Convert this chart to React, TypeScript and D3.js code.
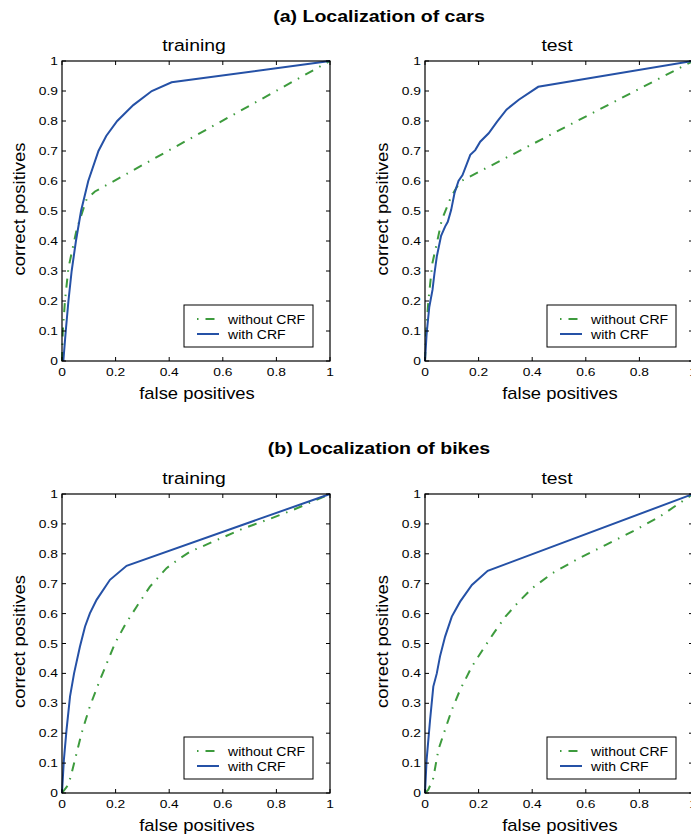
import React from "react";
import * as d3 from "d3";

type Pt = [number, number];

const carsTrainWith: Pt[] = [[0.005,0],[0.014,0.1],[0.024,0.2],[0.036,0.3],[0.052,0.4],[0.071,0.5],[0.098,0.6],[0.136,0.7],[0.165,0.75],[0.206,0.8],[0.266,0.853],[0.335,0.9],[0.409,0.929],[1,1]];
const carsTrainWithout: Pt[] = [[0,0],[0.003,0.1],[0.011,0.2],[0.024,0.31],[0.055,0.44],[0.092,0.54],[0.123,0.565],[1,1]];
const carsTestWith: Pt[] = [[0,0],[0.006,0.09],[0.016,0.18],[0.028,0.237],[0.035,0.29],[0.044,0.348],[0.06,0.417],[0.075,0.448],[0.085,0.464],[0.0975,0.503],[0.11,0.559],[0.125,0.6],[0.14,0.62],[0.169,0.687],[0.1875,0.703],[0.206,0.731],[0.2375,0.759],[0.269,0.798],[0.304,0.838],[0.35,0.871],[0.4225,0.914],[1,1]];
const carsTestWithout: Pt[] = [[0,0],[0.004,0.09],[0.0125,0.2],[0.0275,0.326],[0.044,0.392],[0.0625,0.47],[0.0975,0.548],[0.131,0.598],[1,1]];
const bikesTrainWith: Pt[] = [[0,0],[0.007,0.111],[0.017,0.212],[0.03,0.323],[0.045,0.4],[0.067,0.49],[0.086,0.557],[0.104,0.601],[0.129,0.646],[0.179,0.713],[0.241,0.76],[1,1]];
const bikesTrainWithout: Pt[] = [[0,0],[0.024,0.028],[0.036,0.067],[0.073,0.2],[0.104,0.29],[0.142,0.379],[0.198,0.501],[0.235,0.562],[0.279,0.624],[0.328,0.69],[0.39,0.752],[0.44,0.785],[0.478,0.807],[0.565,0.841],[0.677,0.885],[0.764,0.913],[0.863,0.947],[1,1]];
const bikesTestWith: Pt[] = [[0,0],[0.006,0.111],[0.019,0.245],[0.031,0.356],[0.044,0.4],[0.056,0.457],[0.075,0.523],[0.1,0.59],[0.131,0.64],[0.175,0.696],[0.234,0.743],[1,1]];
const bikesTestWithout: Pt[] = [[0,0],[0.0125,0.011],[0.031,0.05],[0.05,0.145],[0.075,0.212],[0.1,0.278],[0.131,0.345],[0.175,0.423],[0.219,0.484],[0.256,0.534],[0.3,0.59],[0.35,0.64],[0.4,0.685],[0.475,0.735],[0.575,0.785],[0.675,0.83],[0.775,0.875],[0.875,0.924],[1,1]];

const seriesNames = ["without CRF", "with CRF"];
const sectionTitles = ["(a) Localization of cars", "(b) Localization of bikes"];
const panelTitles = ["training", "test"];
const xLabel = "false positives";
const yLabel = "correct positives";

const BLUE = "#2551a6";
const GREEN = "#3d9b3d";
const FONT = "'Liberation Sans', Arial, Helvetica, sans-serif";
const DASH = "9,7,1.5,7";

const fmt = (d: number) => String(+d.toFixed(1));

function T({ x, y, size, sx = 1, anchor = "start", rot = 0, bold = false, children }: { x: number; y: number; size: number; sx?: number; anchor?: string; rot?: number; bold?: boolean; children: React.ReactNode }) {
  return (
    <text
      transform={`translate(${x},${y}) rotate(${rot}) scale(${sx},1)`}
      textAnchor={anchor as any}
      fontSize={size}
      fontWeight={bold ? "bold" : "normal"}
      fontFamily={FONT}
      fill="#000"
    >
      {children}
    </text>
  );
}

function Panel({ x0, x1, y0, y1, title, without, withC }: { x0: number; x1: number; y0: number; y1: number; title: string; without: Pt[]; withC: Pt[] }) {
  const x = d3.scaleLinear().domain([0, 1]).range([x0, x1]);
  const y = d3.scaleLinear().domain([0, 1]).range([y1, y0]);
  const line = d3.line<Pt>().x((d) => x(d[0])).y((d) => y(d[1]));
  const xt = x.ticks(5);
  const yt = y.ticks(10);
  const tl = 4;
  const lx1 = x1 - 17;
  const lx0 = lx1 - 129;
  const ly1 = y1 - 14;
  const ly0 = ly1 - 42;
  const cx = (x0 + x1) / 2;
  const cy = (y0 + y1) / 2;
  return (
    <g>
      <T x={cx - 2} y={y0 - 10.5} size={17} sx={1.14} anchor="middle">{title}</T>
      <rect x={x0} y={y0} width={x1 - x0} height={y1 - y0} fill="white" />
      <path d={line(without) || ""} fill="none" stroke={GREEN} strokeWidth={2} strokeDasharray={DASH} />
      <path d={line(withC) || ""} fill="none" stroke={BLUE} strokeWidth={2} />
      {xt.map((t) => (
        <g key={"x" + t}>
          <line x1={x(t)} x2={x(t)} y1={y1} y2={y1 - tl} stroke="#000" />
          <line x1={x(t)} x2={x(t)} y1={y0} y2={y0 + tl} stroke="#000" />
          <T x={x(t)} y={y1 + 15} size={11.5} sx={1.2} anchor="middle">{fmt(t)}</T>
        </g>
      ))}
      {yt.map((t) => (
        <g key={"y" + t}>
          <line x1={x0} x2={x0 + tl} y1={y(t)} y2={y(t)} stroke="#000" />
          <line x1={x1} x2={x1 - tl} y1={y(t)} y2={y(t)} stroke="#000" />
          <T x={x0 - 4} y={y(t) + 4} size={11.5} sx={1.2} anchor="end">{fmt(t)}</T>
        </g>
      ))}
      <rect x={x0} y={y0} width={x1 - x0} height={y1 - y0} fill="none" stroke="#000" strokeWidth={1.2} />
      <T x={cx + 1} y={y1 + 37.5} size={16} sx={1.15} anchor="middle">{xLabel}</T>
      <T x={x0 - 37} y={cy - 2} size={16} sx={1.15} anchor="middle" rot={-90}>{yLabel}</T>
      <rect x={lx0} y={ly0} width={lx1 - lx0} height={ly1 - ly0} fill="white" stroke="#000" strokeWidth={1} />
      <line x1={lx0 + 13} x2={lx0 + 35} y1={ly0 + 14} y2={ly0 + 14} stroke={GREEN} strokeWidth={2} strokeDasharray="1.5,7,9,7" />
      <T x={lx0 + 44} y={ly0 + 18.5} size={13} sx={1.08}>{seriesNames[0]}</T>
      <line x1={lx0 + 13} x2={lx0 + 35} y1={ly0 + 29} y2={ly0 + 29} stroke={BLUE} strokeWidth={2} />
      <T x={lx0 + 44} y={ly0 + 33.5} size={13} sx={1.08}>{seriesNames[1]}</T>
    </g>
  );
}

export default function App() {
  const cols = [[62, 330], [425, 693]];
  const rows = [[61, 361], [494, 793]];
  const data = [[carsTrainWithout, carsTrainWith, carsTestWithout, carsTestWith], [bikesTrainWithout, bikesTrainWith, bikesTestWithout, bikesTestWith]];
  const secY = [21.7, 453.5];
  return (
    <svg width={691} height={837} style={{ position: "absolute", left: 0, top: 0, background: "white" }}>
      <rect width={691} height={837} fill="white" />
      {rows.map((r, ri) => (
        <g key={ri}>
          <T x={379} y={secY[ri]} size={17} sx={1.15} bold anchor="middle">{sectionTitles[ri]}</T>
          {cols.map((c, ci) => (
            <Panel key={ci} x0={c[0]} x1={c[1]} y0={r[0]} y1={r[1]} title={panelTitles[ci]} without={data[ri][ci * 2]} withC={data[ri][ci * 2 + 1]} />
          ))}
        </g>
      ))}
    </svg>
  );
}
